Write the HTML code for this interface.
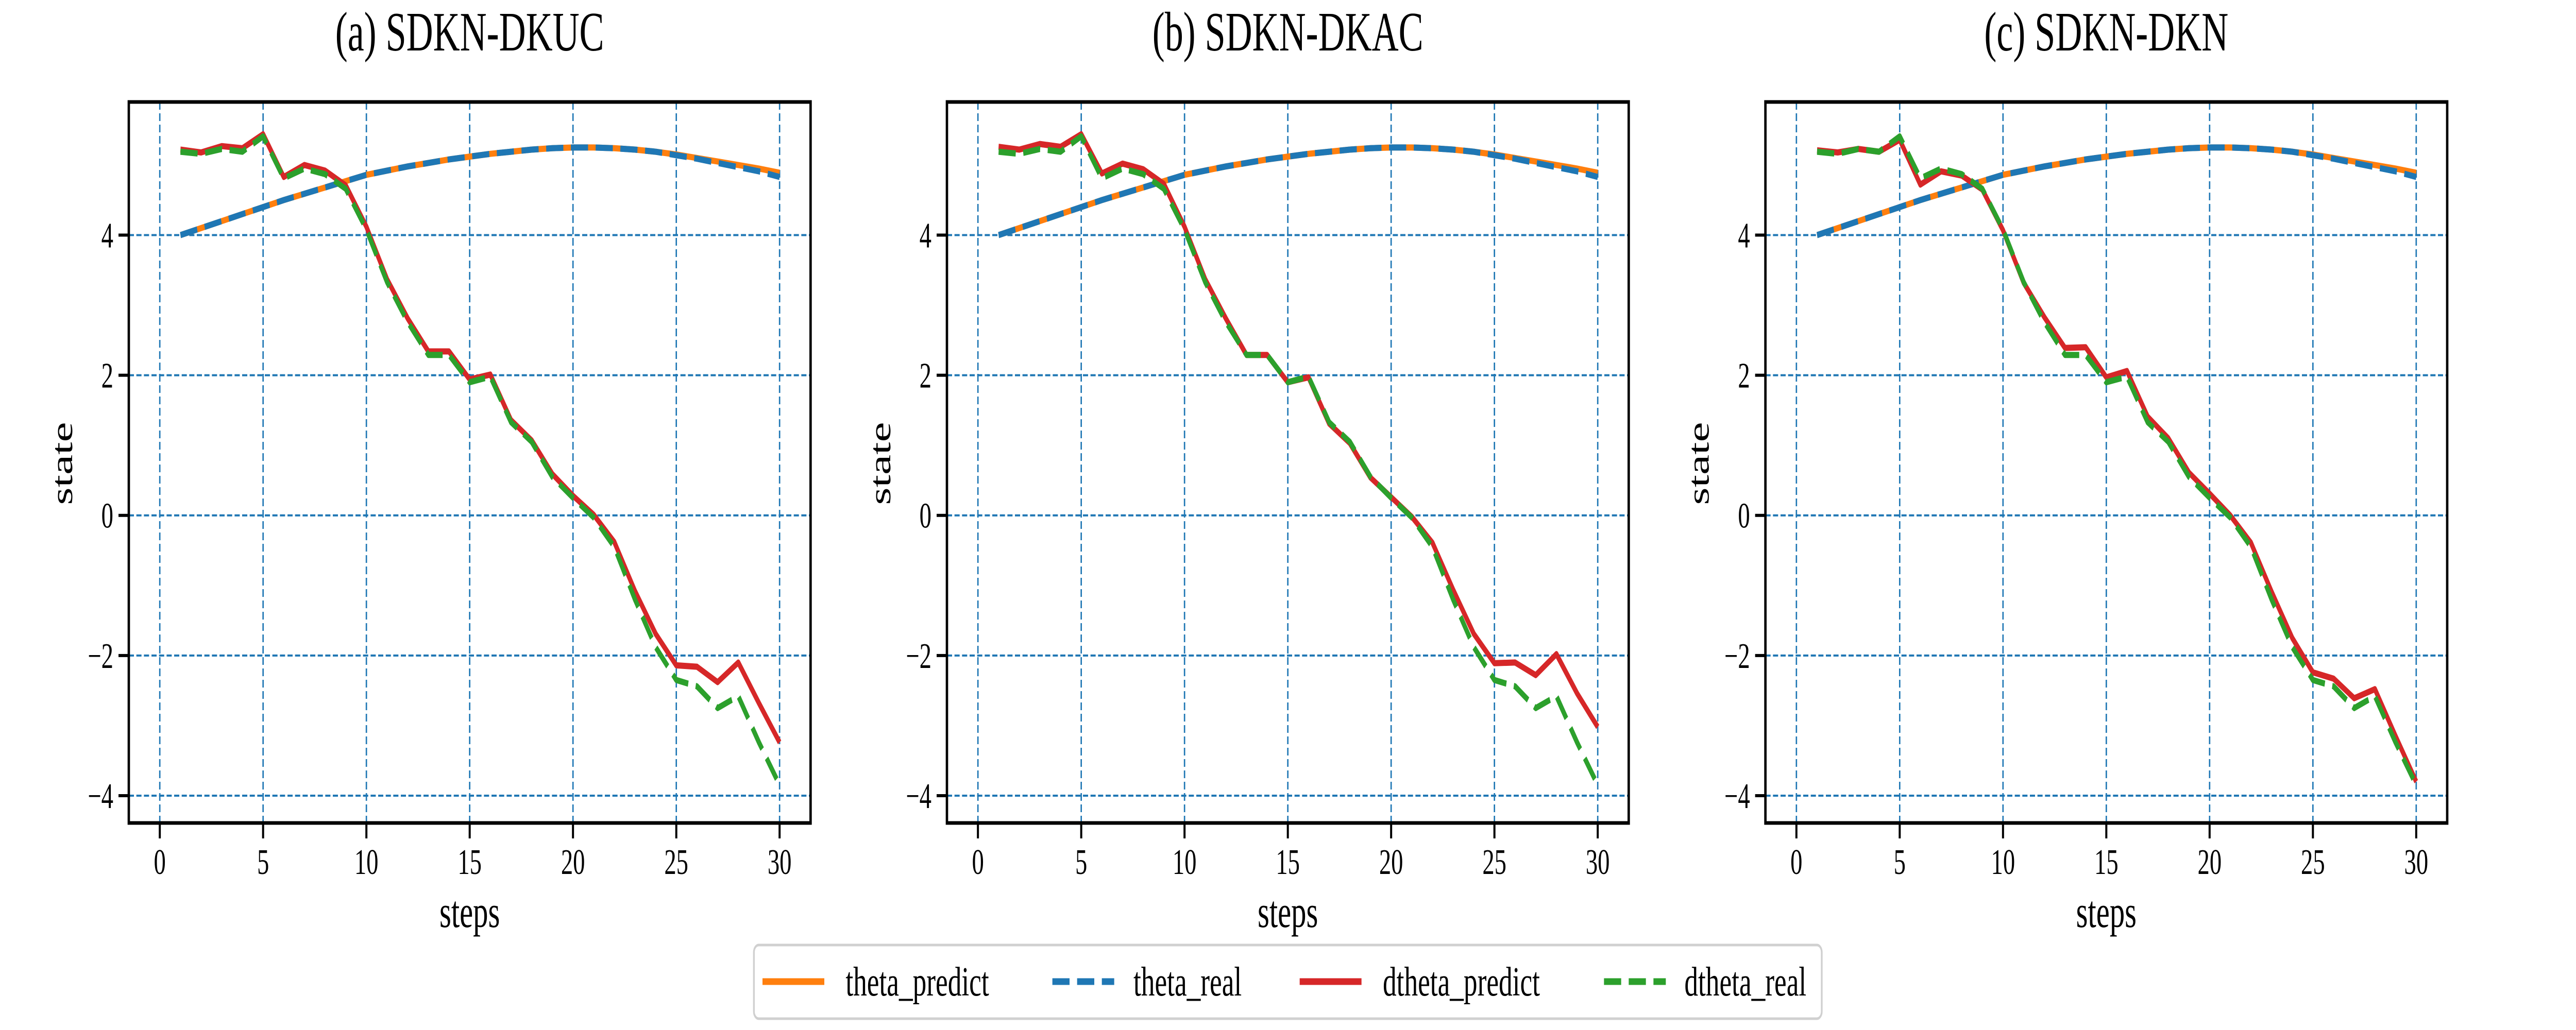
<!DOCTYPE html>
<html><head><meta charset="utf-8"><style>
html,body{margin:0;padding:0;background:#fff;width:100%;height:100%;overflow:hidden}
svg{display:block;width:100vw;height:100vh}
svg text{font-family:"Liberation Serif",serif;fill:#000}
</style></head><body>
<svg id="fig" xmlns="http://www.w3.org/2000/svg" viewBox="0 0 7500 2000" preserveAspectRatio="none">
<rect width="7500" height="2000" fill="#fff"/>
<g id="panels"></g>
<g id="legend">
 <rect x="2195" y="1835" width="3109" height="143" rx="14" fill="#fff" stroke="#d0d0d0" stroke-width="5"/>
 <g>
  <line x1="2220" y1="1906" x2="2400" y2="1906" stroke="#ff7f0e" stroke-width="13"/>
  <text x="2462" y="1933" font-size="80">theta_predict</text></g>
 <g>
  <line x1="3064" y1="1906" x2="3244" y2="1906" stroke="#1f77b4" stroke-width="13" stroke-dasharray="50 22"/>
  <text x="3300" y="1933" font-size="80">theta_real</text></g>
 <g>
  <line x1="3784" y1="1906" x2="3964" y2="1906" stroke="#d62728" stroke-width="13"/>
  <text x="4026" y="1933" font-size="80">dtheta_predict</text></g>
 <g>
  <line x1="4670" y1="1906" x2="4850" y2="1906" stroke="#2ca02c" stroke-width="13" stroke-dasharray="50 22"/>
  <text x="4904" y="1933" font-size="80">dtheta_real</text></g>
</g>
</svg>
<script>
const steps = [1,2,3,4,5,6,7,8,9,10,11,12,13,14,15,16,17,18,19,20,21,22,23,24,25,26,27,28,29,30];
const xTicks = [0,5,10,15,20,25,30];
const yTicks = [-4,-2,0,2,4];
const yTickLabels = ["\u22124","\u22122","0","2","4"];
const panelTitles = ["(a) SDKN-DKUC","(b) SDKN-DKAC","(c) SDKN-DKN"];
const thetaPredict = [4.00,4.10,4.20,4.30,4.40,4.50,4.59,4.68,4.77,4.86,4.92,4.98,5.03,5.08,5.12,5.16,5.19,5.22,5.24,5.25,5.25,5.24,5.22,5.19,5.15,5.10,5.05,5.00,4.95,4.89];
const thetaReal = [4.00,4.10,4.20,4.30,4.40,4.50,4.59,4.68,4.77,4.86,4.92,4.98,5.03,5.08,5.12,5.16,5.19,5.22,5.24,5.25,5.25,5.24,5.22,5.19,5.14,5.09,5.03,4.97,4.91,4.83];
const dthetaReal = [5.19,5.16,5.23,5.19,5.41,4.81,4.95,4.87,4.66,4.08,3.33,2.76,2.29,2.29,1.90,1.98,1.33,1.05,0.55,0.25,-0.03,-0.45,-1.20,-1.88,-2.35,-2.44,-2.75,-2.58,-3.24,-3.85];
const dthetaPredA = [5.22,5.18,5.27,5.24,5.44,4.83,5.00,4.92,4.71,4.12,3.37,2.81,2.34,2.34,1.94,2.01,1.36,1.07,0.59,0.28,0.01,-0.38,-1.08,-1.69,-2.14,-2.16,-2.38,-2.10,-2.68,-3.24];
const dthetaPredB = [5.26,5.22,5.30,5.26,5.44,4.88,5.02,4.94,4.73,4.12,3.37,2.81,2.29,2.29,1.90,1.97,1.31,1.03,0.54,0.26,-0.02,-0.39,-1.06,-1.69,-2.11,-2.10,-2.28,-1.98,-2.54,-3.02];
const dthetaPredC = [5.21,5.18,5.23,5.19,5.36,4.72,4.91,4.85,4.65,4.07,3.32,2.83,2.39,2.40,1.97,2.06,1.41,1.10,0.61,0.31,0.00,-0.39,-1.09,-1.75,-2.24,-2.33,-2.61,-2.48,-3.15,-3.80];
const dthetaPreds = [dthetaPredA,dthetaPredB,dthetaPredC];

(function(){
const NS="http://www.w3.org/2000/svg";
const root=document.getElementById('panels');
function mk(tag,attrs,parent){const e=document.createElementNS(NS,tag);for(const k in attrs)e.setAttribute(k,attrs[k]);parent.appendChild(e);return e;}
const lefts=[375,2757,5140], W=1985, plotTop=198, plotBottom=1598;
const xMin=-1.5, xMax=31.5, yMin=-4.39, yMax=5.90;
lefts.forEach((L,pi)=>{
  const sx=v=>L+(v-xMin)/(xMax-xMin)*W;
  const sy=v=>plotBottom-(v-yMin)/(yMax-yMin)*(plotBottom-plotTop);
  const g=mk('g',{},root);
  
  
  const t=mk('text',{x:L+W/2,y:98,'font-size':108,'text-anchor':'middle'},g);t.textContent=panelTitles[pi];
  
  
  xTicks.forEach(v=>{
    const gl=mk('line',{x1:sx(v),x2:sx(v),y1:plotTop,y2:plotBottom,stroke:'#1f77b4','stroke-width':4,'stroke-dasharray':'15 7'},g);
    
    
    mk('line',{x1:sx(v),x2:sx(v),y1:plotBottom,y2:plotBottom+30,stroke:'#000','stroke-width':6},g);
    const tl=mk('text',{x:sx(v),y:1697,'font-size':70,'text-anchor':'middle'},g);tl.textContent=v;
    
    
  });
  yTicks.forEach((v,i)=>{
    const gl=mk('line',{x1:L,x2:L+W,y1:sy(v),y2:sy(v),stroke:'#1f77b4','stroke-width':4,'stroke-dasharray':'15 7'},g);
    
    
    mk('line',{x1:L-30,x2:L,y1:sy(v),y2:sy(v),stroke:'#000','stroke-width':6},g);
    const tl=mk('text',{x:L-45,y:sy(v)+24,'font-size':70,'text-anchor':'end'},g);tl.textContent=yTickLabels[i];
    
    
  });
  const series=[[thetaPredict,'#ff7f0e',null,'theta-predict-line'],[thetaReal,'#1f77b4','50 22','theta-real-line'],[dthetaPreds[pi],'#d62728',null,'dtheta-predict-line'],[dthetaReal,'#2ca02c','50 22','dtheta-real-line']];
  series.forEach(s=>{
    const d=s[0],c=s[1],dash=s[2],name=s[3];
    const pts=steps.map((st,i)=>sx(st).toFixed(1)+','+sy(d[i]).toFixed(1)).join(' ');
    const a={points:pts,fill:'none',stroke:c,'stroke-width':12,'stroke-linejoin':'round'};
    if(dash)a['stroke-dasharray']=dash;
    const pl=mk('polyline',a,g);
    
    
  });
  const fr=mk('rect',{x:L,y:plotTop,width:W,height:plotBottom-plotTop,fill:'none',stroke:'#000','stroke-width':7},g);
  
  
  const xl=mk('text',{x:L+W/2,y:1800,'font-size':88,'text-anchor':'middle'},g);xl.textContent='steps';
  
  
  const yl=mk('text',{x:0,y:0,'font-size':88,'text-anchor':'middle',transform:'translate('+(L-165)+',900) rotate(-90)'},g);yl.textContent='state';
  
  
});
})();
</script>
</body></html>
